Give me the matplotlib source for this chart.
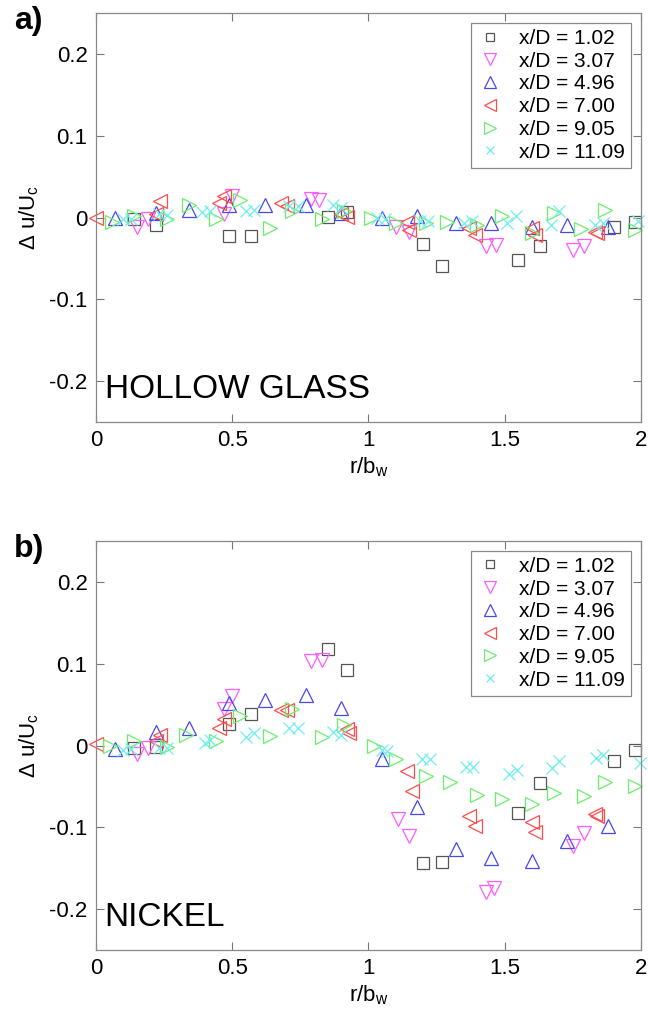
import matplotlib
matplotlib.use("Agg")
import matplotlib.pyplot as plt
from matplotlib.ticker import FormatStrFormatter

plt.rcParams['font.family'] = ['Liberation Sans', 'DejaVu Sans']
plt.rcParams['mathtext.fontset'] = 'custom'
plt.rcParams['mathtext.rm'] = 'Liberation Sans'
plt.rcParams['mathtext.it'] = 'Liberation Sans'
plt.rcParams['axes.unicode_minus'] = False

labels = ['x/D = 1.02', 'x/D = 3.07', 'x/D = 4.96', 'x/D = 7.00', 'x/D = 9.05', 'x/D = 11.09']

# ---- panel a: hollow glass ----
a_r_102 = [0.14, 0.22, 0.49, 0.57, 0.85, 0.92, 1.20, 1.27, 1.55, 1.63, 1.90, 1.98]
a_v_102 = [-0.001, -0.009, -0.023, -0.022, 0.001, 0.007, -0.032, -0.059, -0.052, -0.035, -0.011, -0.005]
a_r_307 = [0.15, 0.19, 0.47, 0.50, 0.79, 0.82, 1.10, 1.15, 1.43, 1.47, 1.75, 1.79]
a_v_307 = [-0.011, -0.002, 0.004, 0.027, 0.023, 0.022, -0.011, -0.017, -0.035, -0.034, -0.040, -0.035]
a_r_496 = [0.07, 0.22, 0.34, 0.49, 0.62, 0.77, 0.90, 1.05, 1.18, 1.32, 1.45, 1.60, 1.73, 1.88]
a_v_496 = [0.000, 0.006, 0.010, 0.016, 0.016, 0.016, 0.006, 0.000, 0.002, -0.006, -0.007, -0.011, -0.009, -0.011]
a_r_700 = [0.00, 0.22, 0.235, 0.45, 0.47, 0.68, 0.70, 0.90, 0.92, 1.14, 1.15, 1.37, 1.39, 1.60, 1.61, 1.83, 1.84]
a_v_700 = [0.000, 0.004, 0.020, 0.018, 0.026, 0.018, 0.014, 0.005, 0.001, -0.005, -0.015, -0.013, -0.021, -0.013, -0.021, -0.017, -0.019]
a_r_905 = [0.06, 0.14, 0.26, 0.34, 0.44, 0.53, 0.64, 0.72, 0.83, 0.91, 1.01, 1.10, 1.21, 1.29, 1.40, 1.49, 1.60, 1.68, 1.78, 1.87, 1.98]
a_v_905 = [-0.005, 0.002, -0.002, 0.016, -0.002, 0.022, -0.013, 0.008, -0.002, 0.008, 0.000, -0.006, -0.006, -0.005, -0.009, 0.002, -0.019, 0.006, -0.014, 0.010, -0.015]
a_r_1109 = [0.10, 0.13, 0.23, 0.26, 0.39, 0.42, 0.55, 0.58, 0.71, 0.74, 0.87, 0.90, 1.03, 1.06, 1.19, 1.22, 1.35, 1.38, 1.51, 1.54, 1.67, 1.70, 1.83, 1.86, 1.99]
a_v_1109 = [-0.002, -0.001, 0.004, 0.003, 0.007, 0.008, 0.008, 0.010, 0.014, 0.014, 0.016, 0.012, 0.000, -0.002, -0.004, -0.004, -0.006, -0.004, -0.006, 0.002, -0.009, 0.008, -0.009, -0.006, -0.004]

# ---- panel b: nickel ----
b_r_102 = [0.14, 0.22, 0.49, 0.57, 0.85, 0.92, 1.20, 1.27, 1.55, 1.63, 1.90, 1.98]
b_v_102 = [-0.003, -0.002, 0.026, 0.039, 0.118, 0.092, -0.144, -0.142, -0.083, -0.046, -0.019, -0.006]
b_r_307 = [0.15, 0.19, 0.47, 0.50, 0.79, 0.83, 1.11, 1.15, 1.43, 1.46, 1.75, 1.79]
b_v_307 = [-0.010, -0.003, 0.045, 0.060, 0.103, 0.105, -0.090, -0.111, -0.179, -0.174, -0.123, -0.107]
b_r_496 = [0.07, 0.22, 0.34, 0.49, 0.62, 0.77, 0.90, 1.05, 1.18, 1.32, 1.45, 1.60, 1.73, 1.88]
b_v_496 = [-0.004, 0.016, 0.022, 0.052, 0.056, 0.062, 0.046, -0.016, -0.075, -0.126, -0.137, -0.141, -0.117, -0.098]
b_r_700 = [0.00, 0.22, 0.235, 0.45, 0.47, 0.68, 0.70, 0.92, 0.93, 1.14, 1.16, 1.37, 1.39, 1.60, 1.61, 1.83, 1.84]
b_v_700 = [0.002, 0.006, 0.013, 0.021, 0.032, 0.044, 0.044, 0.020, 0.015, -0.031, -0.056, -0.086, -0.098, -0.094, -0.106, -0.084, -0.086]
b_r_905 = [0.05, 0.14, 0.26, 0.33, 0.44, 0.53, 0.64, 0.72, 0.83, 0.91, 1.02, 1.10, 1.21, 1.30, 1.40, 1.49, 1.60, 1.68, 1.79, 1.87, 1.98]
b_v_905 = [-0.001, 0.005, -0.002, 0.013, 0.005, 0.036, 0.012, 0.045, 0.011, 0.025, -0.001, -0.017, -0.037, -0.044, -0.060, -0.065, -0.071, -0.058, -0.062, -0.045, -0.050]
b_r_1109 = [0.10, 0.13, 0.23, 0.26, 0.40, 0.42, 0.55, 0.58, 0.71, 0.74, 0.87, 0.90, 1.05, 1.07, 1.195, 1.226, 1.36, 1.385, 1.517, 1.544, 1.675, 1.70, 1.837, 1.862, 1.996]
b_v_1109 = [-0.005, -0.004, -0.003, -0.003, 0.003, 0.007, 0.011, 0.015, 0.022, 0.022, 0.017, 0.013, -0.005, -0.007, -0.016, -0.016, -0.026, -0.026, -0.035, -0.030, -0.027, -0.019, -0.015, -0.011, -0.021]

x_ticks = [0, 0.5, 1, 1.5, 2]
y_ticks = [-0.2, -0.1, 0, 0.1, 0.2]

styles = [
    dict(marker='s', color='#555555', ms=8),
    dict(marker='v', color='#ff5cff', ms=10),
    dict(marker='^', color='#4848ee', ms=10),
    dict(marker='<', color='#ff4d4d', ms=10),
    dict(marker='>', color='#6ced6c', ms=10),
    dict(marker='x', color='#6eeeee', ms=8),
]

fig = plt.figure(figsize=(6.48, 10.22), dpi=100)
axa = fig.add_axes([0.148, 0.587, 0.841, 0.400])
axb = fig.add_axes([0.148, 0.0705, 0.841, 0.400])

panels = [
    (axa, [(a_r_102, a_v_102), (a_r_307, a_v_307), (a_r_496, a_v_496),
           (a_r_700, a_v_700), (a_r_905, a_v_905), (a_r_1109, a_v_1109)],
     'HOLLOW GLASS', 'a)'),
    (axb, [(b_r_102, b_v_102), (b_r_307, b_v_307), (b_r_496, b_v_496),
           (b_r_700, b_v_700), (b_r_905, b_v_905), (b_r_1109, b_v_1109)],
     'NICKEL', 'b)'),
]

for ax, series, name, tag in panels:
    for (r, v), st, lab in zip(series, styles, labels):
        ax.plot(r, v, linestyle='none', marker=st['marker'], markersize=st['ms'],
                markerfacecolor='none', markeredgecolor=st['color'],
                markeredgewidth=0.9, label=lab, clip_on=False)
    ax.set_xlim(0, 2)
    ax.set_ylim(-0.25, 0.25)
    ax.set_xticks(x_ticks)
    ax.set_yticks(y_ticks)
    ax.xaxis.set_major_formatter(FormatStrFormatter('%g'))
    ax.yaxis.set_major_formatter(FormatStrFormatter('%g'))
    ax.tick_params(direction='in', top=True, right=True, length=6, width=0.8,
                   color='#777777', labelsize=16, pad=6)
    for sp in ax.spines.values():
        sp.set_color('#888888')
        sp.set_linewidth(0.9)
    ax.set_xlabel('r/b$_\\mathrm{w}$', fontsize=16, labelpad=3)
    ax.set_ylabel('Δ u/U$_\\mathrm{c}$', fontsize=16, labelpad=6)
    ax.text(0.016, 0.042, name, transform=ax.transAxes, fontsize=24,
            ha='left', va='bottom')
    ax.text(-0.15, 1.018, tag, transform=ax.transAxes, fontsize=23,
            fontweight='bold', ha='left', va='top')
    leg = ax.legend(loc='upper right', fontsize=15, frameon=True, fancybox=False,
                    framealpha=1, edgecolor='#888888', handlelength=1.2,
                    handletextpad=0.8, labelspacing=0.18, borderpad=0.3,
                    borderaxespad=0.45, markerscale=0.8)
    leg.get_frame().set_linewidth(0.9)

fig.savefig('out.png', dpi=100)
